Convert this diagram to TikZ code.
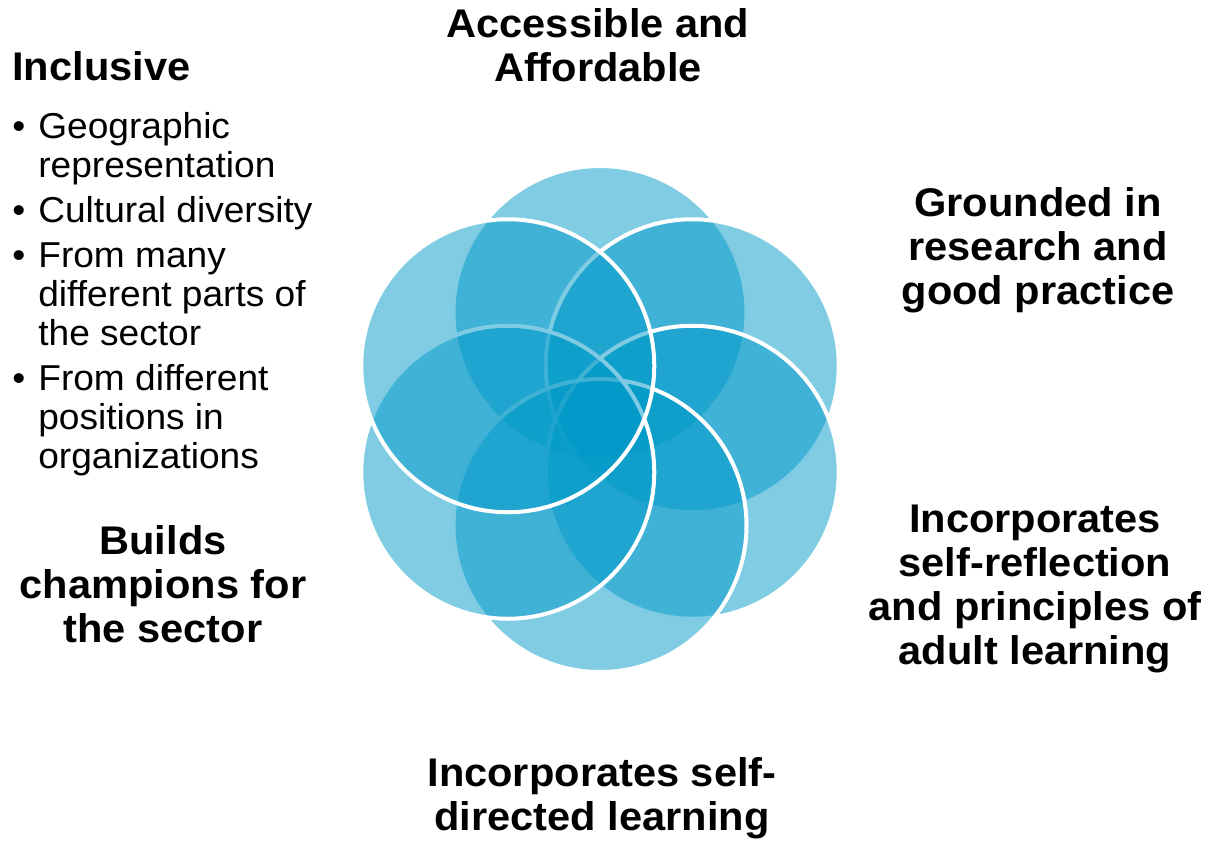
\documentclass[tikz,border=0pt]{standalone}
\usepackage{fontspec}
\setmainfont{Liberation Sans}[FakeStretch=1.03]
\newfontfamily\headfont{Liberation Sans}[FakeStretch=1.04]
\definecolor{petalblue}{RGB}{0,153,200}
\newcommand{\stacklines}[1]{\begin{tabular}[t]{@{}c@{}}#1\end{tabular}}
\tikzset{
  petal/.style={circle, minimum size=146.5pt, inner sep=0pt,
    fill=petalblue, fill opacity=0.5, draw=white, line width=2pt},
  head/.style={inner sep=0pt, anchor=base,
    font=\headfont\bfseries\fontsize{20}{22}\selectfont},
  body/.style={inner sep=0pt, anchor=base west,
    font=\fontsize{18}{19.5}\selectfont}
}
\begin{document}
\begin{tikzpicture}[x=0.5pt, y=0.5pt]
      \useasboundingbox (0,0) rectangle (1211,-841);
      \begin{scope}[shift={(600,-419)}]
        \node[petal] (ptop) at (90:106.5) {};
        \node[petal] (pur) at (30:106.5) {};
        \node[petal] (plr) at (-30:106.5) {};
        \node[petal] (pbot) at (-90:106.5) {};
        \node[petal] (pll) at (-150:106.5) {};
        \node[petal] (pul) at (150:106.5) {};
      \end{scope}
      \node[head] (access) at (598,-37.7) {\stacklines{Accessible and\\Affordable}};
      \node[head] (ground) at (1038,-216.3) {\stacklines{Grounded in\\research and\\good practice}};
      \node[head] (reflect) at (1035,-532) {\stacklines{Incorporates\\self-reflection\\and principles of\\adult learning}};
      \node[head] (selfdir) at (602,-786) {\stacklines{Incorporates self-\\directed learning}};
      \node[head] (champ) at (163,-554) {\stacklines{Builds\\champions for\\the sector}};
      \node[head, anchor=base west] (incl) at (12,-80) {Inclusive};
      \node[body] (incllist) at (12,-138.3) {\begin{tabular}[t]{@{}l@{\hspace{6.5pt}}l@{}}
        \textbullet & Geographic\\
                    & representation\\[3pt]
        \textbullet & Cultural diversity\\[3pt]
        \textbullet & From many\\
                    & different parts of\\
                    & the sector\\[3pt]
        \textbullet & From different\\
                    & positions in\\
                    & organizations
      \end{tabular}};
    \end{tikzpicture}
\end{document}
